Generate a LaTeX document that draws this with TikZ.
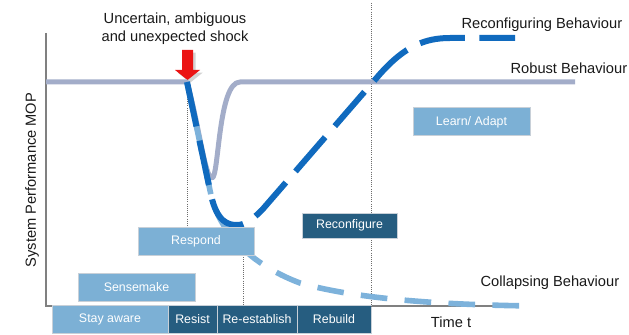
\documentclass[tikz,border=0pt]{standalone}
\usepackage{fontspec}
\setmainfont{Liberation Sans}
\usetikzlibrary{shadows}

\definecolor{boxlight}{RGB}{124,176,213}
\definecolor{boxdark}{RGB}{38,93,128}
\definecolor{boxedge}{RGB}{200,208,216}
\definecolor{robustcol}{RGB}{163,173,201}
\definecolor{reconfcol}{RGB}{16,106,190}
\definecolor{collapsecol}{RGB}{125,178,219}
\definecolor{axisgray}{RGB}{128,128,128}
\definecolor{shockred}{RGB}{235,20,20}

\begin{document}
\begin{tikzpicture}[x=0.75pt,y=-0.75pt,every text node part/.style={align=center},
	lbl/.style={font=\fontsize{11}{13.5}\selectfont,text=black!90},
	stagebox/.style={draw=boxedge,line width=0.75pt,text=white,inner sep=0pt,font=\fontsize{9.3}{11}\selectfont},
	lightbox/.style={stagebox,fill=boxlight,minimum height=21pt},
	darkbox/.style={stagebox,fill=boxdark,minimum height=21pt},
	guide/.style={densely dotted,axisgray!85!black,line width=0.6pt},
	curve/.style={line cap=butt,line join=round}]
		\useasboundingbox (0,0) rectangle (629,335);
		%axes
		\coordinate (ytop) at (46,33);
		\coordinate (origin) at (46,306);
		\coordinate (xend) at (516,306);
		\draw[axisgray,line width=1.5pt] (ytop) -- (origin) -- (xend);
		\node[lbl,rotate=90] (ylabel) at (32,180) {System Performance MOP};
		\node[lbl] (xlabel) at (451,322) {Time t};
		
		%shock
		\coordinate (shock) at (187,82);
		\node[lbl] (shocktext) at (175,29) {Uncertain, ambiguous\\and unexpected shock};
		\fill[shockred,drop shadow={opacity=0.35,shadow xshift=2pt,shadow yshift=-2pt}]
			(182,50) -- (193,50) -- (193,70) -- (200,70) -- (187.5,80) -- (175,70) -- (182,70) -- cycle;
		
		%phases along the time axis
		\node[lightbox,minimum width=87pt] (stay) at (110,319.5) {Stay aware};
		\node[darkbox,minimum width=36.75pt] (resist) at (192.5,319.5) {Resist};
		\node[darkbox,minimum width=60pt] (reestablish) at (257,319.5) {Re-establish};
		\node[darkbox,minimum width=55.5pt] (rebuild) at (334,319.5) {Rebuild};
		
		%guides
		\coordinate (guidetop) at (371,3);
		\draw[guide] (shock) -- (shock |- 0,227);
		\draw[guide] (243,255) -- (243,306);
		\draw[guide] (guidetop) -- (371,306);
		
		%robust
		\draw[robustcol,line width=3.75pt,curve] (46,82) -- (shock)
			.. controls (199,125) and (205,178) .. (212,178)
			.. controls (219,178) and (218,82) .. (240,82) -- (575,82);
		%collapsing
		\draw[collapsecol,line width=4.2pt,curve,dash pattern=on 20pt off 13pt] (shock) -- (211,195)
			.. controls (222,240) and (260,268) .. (300,283)
			.. controls (360,300) and (450,305) .. (535,306);
		%reconfiguring
		\draw[reconfcol,line width=4.5pt,curve,dash pattern=on 34pt off 11pt] (shock) -- (211,195)
			.. controls (217,222) and (228,225) .. (237,225)
			.. controls (245,225) and (252,220) .. (262,210) -- (380,74)
			.. controls (405,46) and (425,38) .. (450,38) -- (515,38);
		
		%responses
		\node[lightbox,minimum width=87.75pt] (sensemake) at (136.5,287) {Sensemake};
		\node[lightbox,minimum width=87pt] (respond) at (196,241) {Respond};
		\node[darkbox,minimum width=71.25pt,minimum height=18.75pt] (reconfigure) at (349.5,225.5) {Reconfigure};
		\node[lightbox,minimum width=87.75pt] (learn) at (471.5,122) {Learn/ Adapt};
		
		%curve labels
		\node[lbl,anchor=west,inner sep=1pt] (reconflabel) at (460,25) {Reconfiguring Behaviour};
		\node[lbl,anchor=west,inner sep=1pt] (robustlabel) at (509,68) {Robust Behaviour};
		\node[lbl,anchor=west,inner sep=1pt] (collapselabel) at (479,283) {Collapsing Behaviour};
		
\end{tikzpicture}
\end{document}
